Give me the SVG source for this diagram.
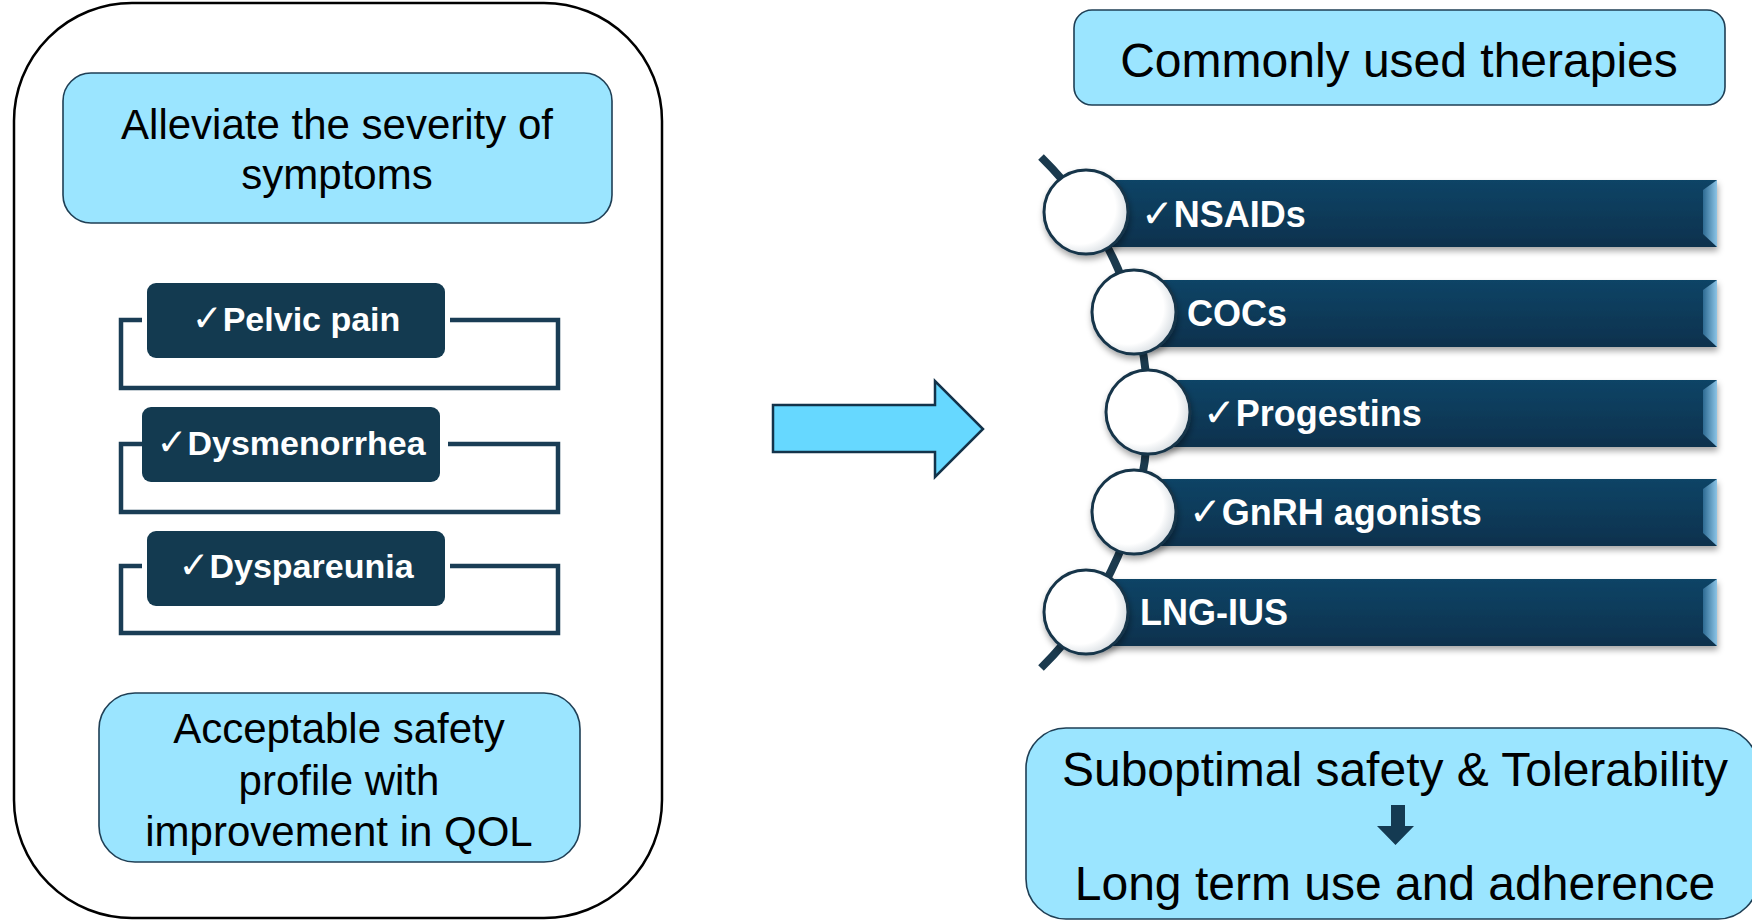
<svg xmlns="http://www.w3.org/2000/svg" width="1752" height="921" viewBox="0 0 1752 921">
<style>
.lb{fill:#9BE5FF;stroke:#1F3F55;stroke-width:1.6}
.reg{font-family:"Liberation Sans",Arial,sans-serif;fill:#000;text-anchor:middle}
.bold{font-family:"Liberation Sans",Arial,sans-serif;font-weight:bold;fill:#fff}
.ck{font-weight:normal;font-family:"DejaVu Sans","Liberation Sans",sans-serif}
.dk{fill:#133A50}
.brk{fill:none;stroke:#1A3D55;stroke-width:4.5}
.circ{fill:url(#cg);stroke:#17344A;stroke-width:3}
.bar{fill:url(#bg)}
.bev{fill:url(#bvg)}
</style>
<defs>
<radialGradient id="cg" cx="0.42" cy="0.45" r="0.6">
<stop offset="0" stop-color="#ffffff"/>
<stop offset="0.72" stop-color="#ffffff"/>
<stop offset="1" stop-color="#d5dbe0"/>
</radialGradient>
<linearGradient id="bg" x1="0" y1="0" x2="0" y2="1">
<stop offset="0" stop-color="#0F4466"/>
<stop offset="1" stop-color="#0A314D"/>
</linearGradient>
<linearGradient id="bvg" x1="0" y1="0" x2="1" y2="0">
<stop offset="0" stop-color="#2D6A92"/>
<stop offset="1" stop-color="#8CC4E6"/>
</linearGradient>
<filter id="sh" x="-10%" y="-20%" width="120%" height="160%">
<feDropShadow dx="1" dy="4" stdDeviation="3" flood-color="#000" flood-opacity="0.35"/>
</filter>
</defs>

<g id="left-panel">
<rect x="14" y="3" width="648" height="915" rx="118" ry="118" fill="#fff" stroke="#000" stroke-width="2.5"/>
</g>

<g id="alleviate">
<rect class="lb" x="63" y="73" width="549" height="150" rx="28"/>
<text class="reg" font-size="42" x="337" y="139">Alleviate the severity of</text>
<text class="reg" font-size="42" x="337" y="189">symptoms</text>
</g>

<g id="connectors">
<path class="brk" d="M142 320 H121 V388 H558 V320 H450"/>
<path class="brk" d="M142 444 H121 V512 H558 V444 H448"/>
<path class="brk" d="M142 566 H121 V633 H558 V566 H450"/>
<path d="M1041 157 A358.5 358.5 0 0 1 1041 668" fill="none" stroke="#1B3A4E" stroke-width="8"/>
</g>

<g id="pelvic-pain">
<rect class="dk" x="147" y="283" width="298" height="75" rx="9"/>
<text class="bold" font-size="34" x="296" y="331" text-anchor="middle"><tspan class="ck" font-size="37">✓</tspan>Pelvic pain</text>
</g>
<g id="dysmenorrhea">
<rect class="dk" x="142" y="407" width="298" height="75" rx="9"/>
<text class="bold" font-size="34" x="291" y="455" text-anchor="middle"><tspan class="ck" font-size="37">✓</tspan>Dysmenorrhea</text>
</g>
<g id="dyspareunia">
<rect class="dk" x="147" y="531" width="298" height="75" rx="9"/>
<text class="bold" font-size="34" x="296" y="578" text-anchor="middle"><tspan class="ck" font-size="37">✓</tspan>Dyspareunia</text>
</g>

<g id="acceptable">
<rect class="lb" x="99" y="693" width="481" height="169" rx="36"/>
<text class="reg" font-size="42" x="339" y="743">Acceptable safety</text>
<text class="reg" font-size="42" x="339" y="795">profile with</text>
<text class="reg" font-size="42" x="339" y="846">improvement in QOL</text>
</g>

<g id="big-arrow">
<path d="M773 405 L935 405 L935 381 L983 429 L935 477 L935 452 L773 452 Z" fill="#66D8FF" stroke="#13334A" stroke-width="2.5" stroke-linejoin="miter"/>
</g>

<g id="commonly">
<rect class="lb" x="1074" y="10" width="651" height="95" rx="18"/>
<text class="reg" font-size="48" x="1399" y="77">Commonly used therapies</text>
</g>

<g id="nsaids">
<rect class="bar" x="1086" y="180" width="631" height="67" filter="url(#sh)"/>
<polygon class="bev" points="1703,190 1717,180 1717,247 1703,234"/>
<circle class="circ" cx="1086" cy="212" r="42" filter="url(#sh)"/>
<text class="bold" font-size="36" x="1141" y="227"><tspan class="ck" font-size="39">✓</tspan>NSAIDs</text>
</g>
<g id="cocs">
<rect class="bar" x="1134" y="280" width="583" height="67" filter="url(#sh)"/>
<polygon class="bev" points="1703,290 1717,280 1717,347 1703,334"/>
<circle class="circ" cx="1134" cy="312" r="42" filter="url(#sh)"/>
<text class="bold" font-size="36" x="1187" y="326">COCs</text>
</g>
<g id="progestins">
<rect class="bar" x="1148" y="380" width="569" height="67" filter="url(#sh)"/>
<polygon class="bev" points="1703,390 1717,380 1717,447 1703,434"/>
<circle class="circ" cx="1148" cy="412" r="42" filter="url(#sh)"/>
<text class="bold" font-size="36" x="1203" y="426"><tspan class="ck" font-size="39">✓</tspan>Progestins</text>
</g>
<g id="gnrh">
<rect class="bar" x="1134" y="479" width="583" height="67" filter="url(#sh)"/>
<polygon class="bev" points="1703,489 1717,479 1717,546 1703,533"/>
<circle class="circ" cx="1134" cy="512" r="42" filter="url(#sh)"/>
<text class="bold" font-size="36" x="1189" y="525"><tspan class="ck" font-size="39">✓</tspan>GnRH agonists</text>
</g>
<g id="lng-ius">
<rect class="bar" x="1086" y="579" width="631" height="67" filter="url(#sh)"/>
<polygon class="bev" points="1703,589 1717,579 1717,646 1703,633"/>
<circle class="circ" cx="1086" cy="612" r="42" filter="url(#sh)"/>
<text class="bold" font-size="36" x="1140" y="625">LNG-IUS</text>
</g>

<g id="suboptimal">
<rect class="lb" x="1026" y="728" width="732" height="191" rx="40"/>
<text class="reg" font-size="48" x="1395" y="786">Suboptimal safety &amp; Tolerability</text>
<path d="M1391 805 H1405 V826 H1414 L1395.5 845 L1377 826 H1391 Z" fill="#143A52"/>
<text class="reg" font-size="48" x="1395" y="900">Long term use and adherence</text>
</g>
</svg>
